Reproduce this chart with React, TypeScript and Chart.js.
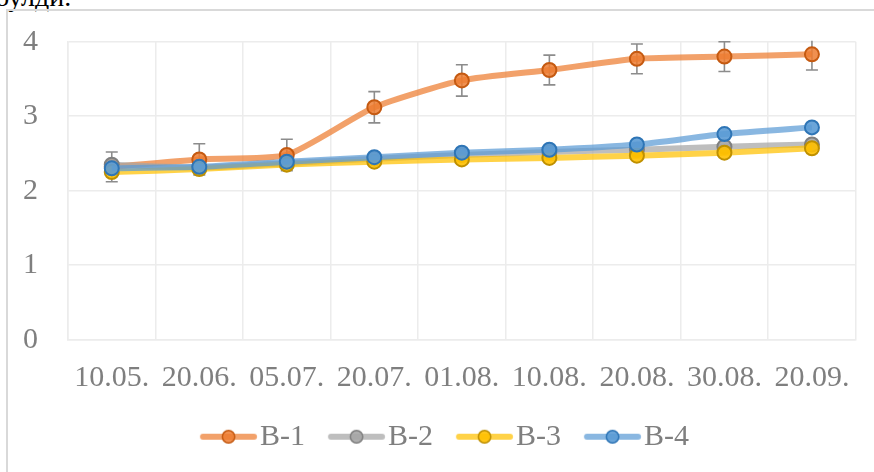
import React, { useEffect, useRef } from "react";
import { Chart, registerables } from "chart.js";

Chart.register(...registerables);

// ---------- data ----------
const categories = ["10.05.", "20.06.", "05.07.", "20.07.", "01.08.", "10.08.", "20.08.", "30.08.", "20.09."];
const seriesNames = ["B-1", "B-2", "B-3", "B-4"];
const b1Values = [2.32, 2.42, 2.48, 3.12, 3.48, 3.62, 3.77, 3.8, 3.83];
const b2Values = [2.35, 2.31, 2.37, 2.43, 2.48, 2.52, 2.55, 2.59, 2.62];
const b3Values = [2.25, 2.29, 2.35, 2.39, 2.42, 2.44, 2.47, 2.51, 2.57];
const b4Values = [2.3, 2.32, 2.39, 2.45, 2.51, 2.55, 2.62, 2.76, 2.85];
const b1Errors = [0.2, 0.21, 0.21, 0.21, 0.21, 0.2, 0.2, 0.2, 0.21];
const yMin = 0;
const yMax = 4;
const yStep = 1;

// ---------- styles ----------
const lineColors = ["rgba(237,125,49,0.72)", "rgba(165,165,165,0.72)", "rgba(255,192,0,0.72)", "rgba(91,155,213,0.72)"];
const pointFills = ["rgba(237,125,49,0.85)", "rgba(165,165,165,0.9)", "rgba(255,192,0,0.9)", "rgba(91,155,213,0.9)"];
const pointBorders = ["#C55A11", "#7F7F7F", "#BF9000", "#2E75B6"];
const FONT = "'Liberation Serif', 'Times New Roman', serif";
const TEXT_GRAY = "#7f7f7f";
const GRID = "#ececec";

function makeLegendImage(line: string, fill: string, border: string) {
  // image is centred at x + pointStyleWidth / 2; line spans x+13.3 .. x+70.3
  const c = document.createElement("canvas");
  c.width = 84;
  c.height = 20;
  const ctx = c.getContext("2d")!;
  const x0 = 26.15;
  const x1 = 83.15;
  ctx.strokeStyle = line;
  ctx.lineWidth = 6;
  ctx.lineCap = "round";
  ctx.beginPath();
  ctx.moveTo(x0 + 3, 10);
  ctx.lineTo(x1 - 3, 10);
  ctx.stroke();
  ctx.beginPath();
  ctx.arc((x0 + x1) / 2, 10, 6.2, 0, Math.PI * 2);
  ctx.fillStyle = fill;
  ctx.fill();
  ctx.lineWidth = 1.5;
  ctx.strokeStyle = border;
  ctx.stroke();
  return c;
}

const errorBarPlugin = {
  id: "errorBars",
  beforeDatasetsDraw(chart: any) {
    const meta = chart.getDatasetMeta(0);
    const yScale = chart.scales.y;
    const area = chart.chartArea;
    const ctx = chart.ctx;
    ctx.save();
    ctx.beginPath();
    ctx.rect(area.left, area.top - 1, area.right - area.left, area.bottom - area.top + 2);
    ctx.clip();
    ctx.strokeStyle = "#8c8c8c";
    ctx.lineWidth = 1.6;
    meta.data.forEach((pt: any, i: number) => {
      const v = b1Values[i];
      const e = b1Errors[i];
      const yTop = yScale.getPixelForValue(v + e);
      const yBot = yScale.getPixelForValue(v - e);
      const x = pt.x;
      ctx.beginPath();
      ctx.moveTo(x, yTop);
      ctx.lineTo(x, yBot);
      ctx.moveTo(x - 6, yTop);
      ctx.lineTo(x + 6, yTop);
      ctx.moveTo(x - 6, yBot);
      ctx.lineTo(x + 6, yBot);
      ctx.stroke();
    });
    ctx.restore();
  },
};

export default function App() {
  const canvasRef = useRef<HTMLCanvasElement | null>(null);

  useEffect(() => {
    if (!canvasRef.current) return;
    const allValues = [b1Values, b2Values, b3Values, b4Values];
    const legendImages = seriesNames.map((_, i) => makeLegendImage(lineColors[i], pointFills[i], pointBorders[i]));
    const datasets = seriesNames.map((name, i) => ({
      label: name,
      data: allValues[i],
      borderColor: lineColors[i],
      backgroundColor: pointFills[i],
      borderWidth: 6,
      pointRadius: 7,
      pointBorderWidth: 2,
      pointBackgroundColor: pointFills[i],
      pointBorderColor: pointBorders[i],
      tension: 0.2,
      order: seriesNames.length - 1 - i,
    }));

    const chart = new Chart(canvasRef.current, {
      type: "line",
      data: { labels: categories, datasets },
      plugins: [errorBarPlugin],
      options: {
        animation: false,
        responsive: false,
        maintainAspectRatio: false,
        layout: { padding: { left: 20, right: 18.3, top: 41.7, bottom: 10.3 } },
        plugins: {
          tooltip: { enabled: false },
          legend: {
            position: "bottom",
            fullSize: true,
            title: { display: true, text: "", font: { size: 10 }, padding: { top: 4.15, bottom: 4.15 } },
            labels: {
              usePointStyle: true,
              pointStyleWidth: 58.3,
              padding: 9.7,
              color: TEXT_GRAY,
              font: { family: FONT, size: 30 },
              generateLabels: () =>
                seriesNames.map((name, i) => ({
                  text: name,
                  fillStyle: pointFills[i],
                  strokeStyle: pointBorders[i],
                  fontColor: TEXT_GRAY,
                  lineWidth: 0,
                  pointStyle: legendImages[i],
                  hidden: false,
                  datasetIndex: i,
                })),
            },
          },
        },
        scales: {
          x: {
            type: "category",
            offset: true,
            afterFit: (scale: any) => {
              scale.height = 52;
            },
            grid: { offset: true, color: GRID, lineWidth: 1.5, drawTicks: false },
            border: { color: GRID, width: 1.5 },
            ticks: {
              autoSkip: false,
              maxRotation: 0,
              padding: 20,
              color: TEXT_GRAY,
              font: { family: FONT, size: 30 },
            },
          },
          y: {
            min: yMin,
            max: yMax,
            afterFit: (scale: any) => {
              scale.width = 48;
              scale.paddingTop = 0;
              scale.paddingBottom = 0;
            },
            grid: { color: GRID, lineWidth: 1.5, drawTicks: false },
            border: { color: GRID, width: 1.5 },
            ticks: {
              stepSize: yStep,
              padding: 30,
              color: TEXT_GRAY,
              font: { family: FONT, size: 30 },
            },
          },
        },
      } as any,
    });
    return () => chart.destroy();
  }, []);

  return (
    <div style={{ position: "absolute", left: 0, top: 0, width: 874, height: 472, overflow: "hidden", background: "#fff" }}>
      <div
        style={{
          position: "absolute",
          left: -5,
          top: -17.5,
          fontFamily: FONT,
          fontSize: 28,
          lineHeight: "28px",
          color: "#000",
          whiteSpace: "nowrap",
        }}
      >
        булди.
      </div>
      <div
        style={{
          position: "absolute",
          left: 6,
          top: 9,
          width: 900,
          height: 500,
          border: "2px solid #d9d9d9",
        }}
      />
      <canvas ref={canvasRef} width={874} height={472} style={{ position: "absolute", left: 0, top: 0 }} />
    </div>
  );
}
